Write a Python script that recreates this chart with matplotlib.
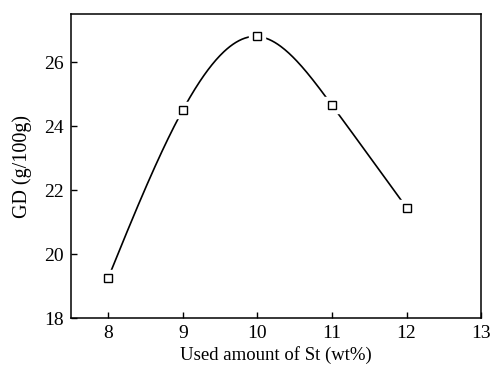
import numpy as np
import matplotlib
matplotlib.use("Agg")
import matplotlib.pyplot as plt

plt.rcParams['font.family'] = ['Liberation Serif', 'DejaVu Serif']

# St dosage (wt%) vs GD (g/100g)
st_amount = [8, 9, 10, 11, 12]
gd_values = [19.25, 24.5, 26.8, 24.65, 21.45]


def natural_spline(x, y, n=300):
    """ natural cubic spline through (x, y), returns a dense curve """
    x = np.asarray(x, float)
    y = np.asarray(y, float)
    k = len(x)
    h = np.diff(x)
    A = np.zeros((k, k))
    b = np.zeros(k)
    A[0, 0] = A[-1, -1] = 1.0
    for i in range(1, k - 1):
        A[i, i - 1] = h[i - 1]
        A[i, i] = 2 * (h[i - 1] + h[i])
        A[i, i + 1] = h[i]
        b[i] = 6 * ((y[i + 1] - y[i]) / h[i] - (y[i] - y[i - 1]) / h[i - 1])
    M = np.linalg.solve(A, b)
    xs = np.linspace(x[0], x[-1], n)
    idx = np.clip(np.searchsorted(x, xs) - 1, 0, k - 2)
    x0, x1 = x[idx], x[idx + 1]
    hh = x1 - x0
    t0, t1 = x1 - xs, xs - x0
    ys = (M[idx] * t0**3 + M[idx + 1] * t1**3) / (6 * hh) \
        + (y[idx] / hh - M[idx] * hh / 6) * t0 \
        + (y[idx + 1] / hh - M[idx + 1] * hh / 6) * t1
    return xs, ys


fig = plt.figure(figsize=(4.92, 3.69), dpi=100)
ax = fig.add_axes([0.144, 0.138, 0.834, 0.824])

xs, ys = natural_spline(st_amount, gd_values)
ax.plot(xs, ys, color='black', lw=1.2, zorder=2)
# white halo so the curve stops short of each marker
ax.plot(st_amount, gd_values, ls='none', marker='s', ms=11,
        mfc='white', mec='white', zorder=3)
ax.plot(st_amount, gd_values, ls='none', marker='s', ms=6,
        mfc='white', mec='black', mew=1.0, zorder=4)

ax.set_xlim(7.5, 13)
ax.set_ylim(18, 27.5)
ax.set_xticks([8, 9, 10, 11, 12, 13])
ax.set_yticks([18, 20, 22, 24, 26])
ax.tick_params(direction='in', length=4, width=1, labelsize=14, pad=5)
for s in ax.spines.values():
    s.set_linewidth(1.1)

ax.set_xlabel('Used amount of St (wt%)', fontsize=13.5, labelpad=3)
ax.set_ylabel('GD (g/100g)', fontsize=14.5, labelpad=9)

fig.savefig('out.png', dpi=100)
